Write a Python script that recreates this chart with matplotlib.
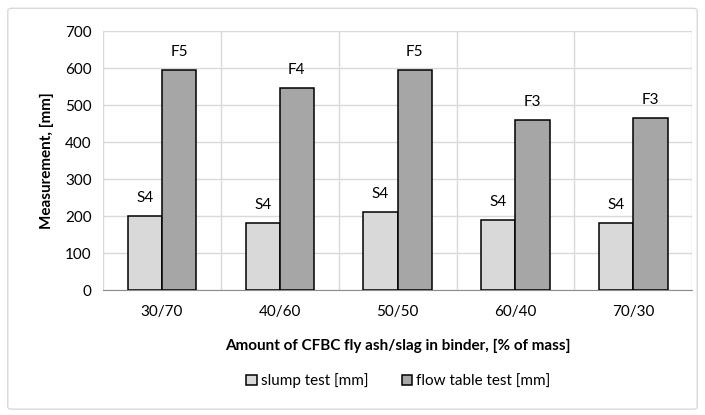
import numpy as np
import matplotlib.pyplot as plt
from matplotlib.patches import FancyBboxPatch

plt.rcParams['font.family'] = ['Lato', 'DejaVu Sans']

# data
categories = ['30/70', '40/60', '50/50', '60/40', '70/30']
slump = [200, 180, 210, 190, 180]
flow = [595, 545, 595, 460, 465]
slump_cls = ['S4', 'S4', 'S4', 'S4', 'S4']
flow_cls = ['F5', 'F4', 'F5', 'F3', 'F3']

fig = plt.figure(figsize=(7.05, 4.15), dpi=100)
ax = fig.add_axes([0.146, 0.301, 0.836, 0.624])

# outer chart-area border
fig.patches.append(FancyBboxPatch((0.011, 0.014), 0.978, 0.966,
                                  boxstyle='round,pad=0,rounding_size=0.006',
                                  transform=fig.transFigure, fill=False,
                                  edgecolor='#d9d9d9', lw=1.0))

x = np.arange(len(categories))
w = 0.29
b1 = ax.bar(x - w / 2, slump, w, color='#d9d9d9', edgecolor='black', lw=1.1,
            label='slump test [mm]', zorder=3)
b2 = ax.bar(x + w / 2, flow, w, color='#a6a6a6', edgecolor='black', lw=1.1,
            label='flow table test [mm]', zorder=3)

for r, t in zip(b1, slump_cls):
    ax.annotate(t, (r.get_x() + r.get_width() / 2, r.get_height()),
                xytext=(0, 8), textcoords='offset points', ha='center',
                va='bottom', fontsize=11)
for r, t in zip(b2, flow_cls):
    ax.annotate(t, (r.get_x() + r.get_width() / 2, r.get_height()),
                xytext=(0, 8), textcoords='offset points', ha='center',
                va='bottom', fontsize=11)

ax.set_xlim(-0.5, len(categories) - 0.5)
ax.set_ylim(0, 700)
ax.set_yticks(range(0, 701, 100))
ax.set_xticks(x)
ax.set_xticklabels(categories)
ax.tick_params(axis='both', length=0, labelsize=11)
ax.tick_params(axis='x', pad=11)
ax.tick_params(axis='y', pad=8)

# gridlines
ax.yaxis.grid(True, color='#d9d9d9', lw=1.0, zorder=0)
for xb in np.arange(0.5, len(categories) - 0.5, 1.0):
    ax.axvline(xb, color='#d9d9d9', lw=1.0, zorder=0)
ax.axvline(len(categories) - 0.5, color='#d9d9d9', lw=1.0, zorder=0)
ax.axvline(-0.5, color='#d9d9d9', lw=1.0, zorder=0)

for s in ['top', 'right', 'left']:
    ax.spines[s].set_visible(False)
ax.spines['bottom'].set_color('#8c8c8c')

ax.set_ylabel('Measurement, [mm]', fontsize=11, fontweight='bold', labelpad=8)
ax.set_xlabel('Amount of CFBC fly ash/slag in binder, [% of mass]',
              fontsize=11, fontweight='bold', labelpad=14)

fig.legend(handles=[b1, b2], loc='center', bbox_to_anchor=(0.565, 0.082),
           ncol=2, frameon=False, fontsize=11, handlelength=0.7,
           handleheight=0.7, handletextpad=0.25, columnspacing=2.2)

fig.savefig('out.png', dpi=100)
